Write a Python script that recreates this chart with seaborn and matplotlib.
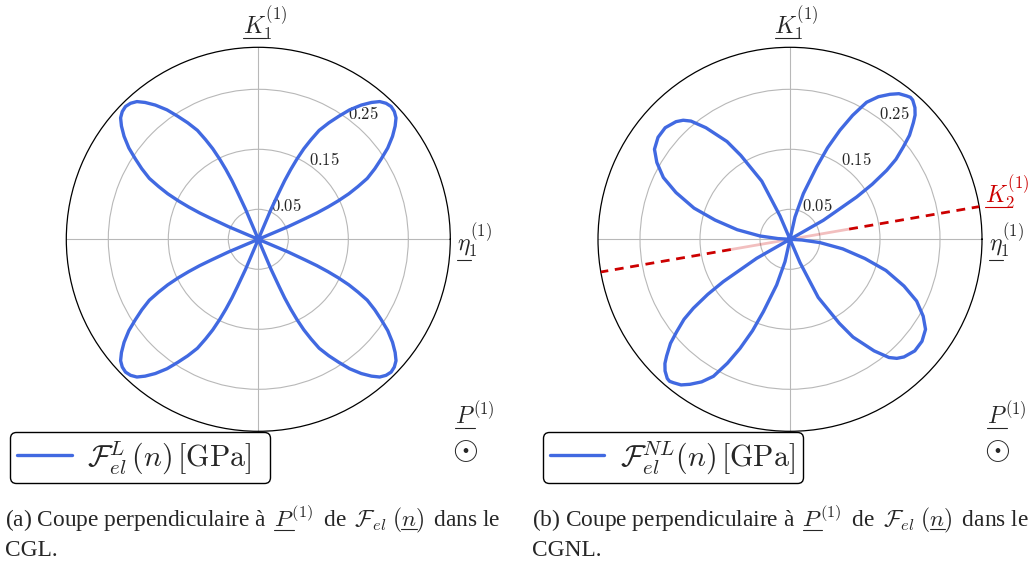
import numpy as np
import matplotlib
matplotlib.use("Agg")
import matplotlib.pyplot as plt
import matplotlib.transforms as mtransforms
from matplotlib.lines import Line2D
import seaborn as sns

sns.set_style("white")
plt.rcParams['font.family'] = ['Liberation Serif', 'DejaVu Serif']
plt.rcParams['mathtext.fontset'] = 'cm'

# ---------------- data ----------------
# (a) CGL : one petal (angle in degrees, radius in GPa), found in the 4 quadrants
left_petal_theta = [22.5, 23.0, 23.8, 24.2, 24.9, 25.7, 26.7, 27.9, 29.2, 31.2, 33.2, 35.2, 37.5, 39.6, 41.4,
                    43.2, 45.0, 46.8, 48.6, 50.4, 52.5, 54.8, 56.8, 58.8, 60.8, 62.1, 63.3, 64.3, 65.1, 65.8,
                    66.2, 67.0, 67.5]
left_petal_r = [0.0, 0.054, 0.086, 0.107, 0.128, 0.148, 0.169, 0.188, 0.208, 0.227, 0.245, 0.264, 0.282, 0.296,
                0.306, 0.311, 0.313, 0.311, 0.306, 0.296, 0.282, 0.264, 0.245, 0.227, 0.208, 0.188, 0.169,
                0.148, 0.128, 0.107, 0.086, 0.054, 0.0]
left_petal_orient = [0, 90, 180, 270]

# (b) CGNL : two different petals, each found again on the opposite side
right_petal1_theta = [29.5, 29.7, 32.4, 33.8, 35.5, 37.05, 39.2, 41.04, 43.4, 44.8, 46.5, 48.6, 49.7, 50.9,
                      53.2, 55.4, 58.2, 60.8, 63.2, 65.4, 67.7, 69.8, 73.7, 77.4, 79.0]
right_petal1_r = [0.0, 0.064, 0.1316, 0.1649, 0.1979, 0.2213, 0.2437, 0.2641, 0.2830, 0.2938, 0.3025, 0.3093,
                  0.3103, 0.3080, 0.3031, 0.2936, 0.2796, 0.2616, 0.2314, 0.1999, 0.1648, 0.1285, 0.0793,
                  0.0381, 0.0]
right_petal2_theta = [112.0, 113.2, 115.9, 120.4, 122.8, 127.0, 129.95, 131.9, 134.1, 138.2, 142.3, 146.4,
                      150.0, 154.0, 157.7, 162.0, 165.6, 169.7, 173.7, 176.6, 177.5]
right_petal2_r = [0.0, 0.0424, 0.1078, 0.1622, 0.1939, 0.2328, 0.2570, 0.2666, 0.2730, 0.2790, 0.2780, 0.2712,
                  0.2563, 0.2348, 0.2054, 0.1682, 0.1290, 0.0894, 0.0503, 0.0200, 0.0]
right_petal_orient = [0, 180]

ring_ticks = [0.05, 0.15, 0.25]
ring_labels = ['0.05', '0.15', '0.25']
r_max = 0.32
theta_grid = [0, 90, 180, 270]
k2_angle = 9.8
k2_inner = 0.10

BLUE = '#4169E1'
RED = '#CC0000'


def build(theta, r, orients):
    th, rr = [], []
    for o in orients:
        th += [t + o for t in theta]
        rr += list(r)
    return np.deg2rad(th), np.array(rr)


W, H = 1032, 572
fig = plt.figure(figsize=(W / 100, H / 100), dpi=100)


def fx(x):
    return x / W


def fy(y):
    return 1 - y / H


R_PX = 192
centers = [(258.3, 239.3), (790.0, 239.3)]
axes = []
for cx, cy in centers:
    ax = fig.add_axes([fx(cx - R_PX), fy(cy + R_PX), 2 * R_PX / W, 2 * R_PX / H], projection='polar')
    ax.set_ylim(0, r_max)
    ax.set_xticks(np.deg2rad(theta_grid))
    ax.set_xticklabels([])
    ax.set_yticks(ring_ticks)
    ax.set_yticklabels([])
    ax.grid(True, color='#b8b8b8', lw=0.8)
    ax.spines['polar'].set_edgecolor('black')
    ax.spines['polar'].set_linewidth(0.9)
    ax.tick_params(length=0)
    off = mtransforms.offset_copy(ax.transData, fig=fig, x=8.4, y=10.0, units='dots')
    for v, lab in zip(ring_ticks, ring_labels):
        ax.text(np.deg2rad(50), v, '$' + lab + '$', transform=off, ha='center', va='center',
                fontsize=12, zorder=4)
    axes.append(ax)

axL, axR = axes

# ---- left curve ----
thL, rL = build(left_petal_theta, left_petal_r, left_petal_orient)
sns.lineplot(x=thL, y=rL, ax=axL, sort=False, estimator=None, color=BLUE, lw=2.4, zorder=5)
lineL = axL.lines[-1]

# ---- right curve ----
n1, n2 = len(right_petal1_theta), len(right_petal2_theta)
th1, r1 = build(right_petal1_theta, right_petal1_r, right_petal_orient)
th2, r2 = build(right_petal2_theta, right_petal2_r, right_petal_orient)
thR = np.concatenate([th1[:n1], th2[:n2], th1[n1:], th2[n2:]])
rR = np.concatenate([r1[:n1], r2[:n2], r1[n1:], r2[n2:]])

# K2 direction
for a in (k2_angle, k2_angle + 180):
    axR.plot([np.deg2rad(a)] * 2, [0, k2_inner], color=RED, alpha=0.25, lw=2.0, zorder=3,
             solid_capstyle='butt')
    axR.plot([np.deg2rad(a)] * 2, [k2_inner, r_max], color=RED, lw=2.0, ls=(0, (3.2, 2.4)), zorder=3)

sns.lineplot(x=thR, y=rR, ax=axR, sort=False, estimator=None, color=BLUE, lw=2.4, zorder=5)
lineR = axR.lines[-1]

for ax in axes:
    if ax.get_legend() is not None:
        ax.get_legend().remove()

# ---- legends ----
leg_labels = [r'$\mathcal{F}_{el}^{L}\,(n)\,[\mathrm{GPa}]$',
              r'$\mathcal{F}_{el}^{NL}(n)\,[\mathrm{GPa}]$']
leg_ul = [[(r'$\mathcal{F}_{el}^{L}\,(n$', r'$n$', 0.10)],
          [(r'$\mathcal{F}_{el}^{NL}(n$', r'$n$', 0.10)]]
leg_box = [(10, 482.7), (542.7, 482.7)]
LEG_W, LEG_H = 260, 50
legends = []
for ln, lab, (lx, ly) in zip([lineL, lineR], leg_labels, leg_box):
    lg = fig.legend(handles=[ln], labels=[lab], loc='lower left', mode='expand',
                    bbox_to_anchor=(fx(lx), fy(ly), LEG_W / W, LEG_H / H),
                    bbox_transform=fig.transFigure, borderaxespad=0, frameon=True, fancybox=True,
                    fontsize=21.5, handlelength=1.82, handletextpad=0.53, borderpad=0.24, framealpha=1)
    lg.get_frame().set_edgecolor('black')
    lg.get_frame().set_linewidth(1.0)
    legends.append(lg)

# ---- direction labels ----
K1 = r'$K_1^{(1)}$'
ETA = r'$\eta_1^{(1)}$'
P1 = r'$P^{(1)}$'
K2 = r'$K_2^{(1)}$'

ul_jobs = []
for cx in (258.3, 790.0):
    t = fig.text(fx(cx - 15.5), fy(24), K1, fontsize=17, ha='left', va='center')
    ul_jobs.append((t, [(r'$K$', r'$K$', 0.16)]))
    t = fig.text(fx(cx + 199), fy(241), ETA, fontsize=17, ha='left', va='center')
    ul_jobs.append((t, [(r'$\eta$', r'$\eta$', 0.34)]))
    t = fig.text(fx(cx + 197), fy(416), P1, fontsize=17, ha='left', va='center')
    ul_jobs.append((t, [(r'$P$', r'$P$', 0.16)]))
    fig.text(fx(cx + 207), fy(451), r'$\odot$', fontsize=24, ha='center', va='center')
t = fig.text(fx(985), fy(193), K2, fontsize=17, ha='left', va='center', color=RED)
ul_jobs.append((t, [(r'$K$', r'$K$', 0.16)]))

# ---- captions ----
for lab, x0, second in (('(a)', 5, 'CGL.'), ('(b)', 532, 'CGNL.')):
    pre1 = lab + r' Coupe perpendiculaire à $\,P'
    pre2 = pre1 + r'^{(1)}\,$ de $\,\mathcal{F}_{el}\;(n'
    cap = pre2 + r')\,$ dans le'
    t = fig.text(fx(x0), fy(519), cap, fontsize=16.8, ha='left', va='center')
    ul_jobs.append((t, [(pre1 + '$', r'$P$', 0.14), (pre2 + '$', r'$n$', 0.12)]))
    fig.text(fx(x0), fy(551), second, fontsize=16.8, ha='left', va='center')

# ---- underlines (the notation uses underlined vectors) ----
fig.canvas.draw()
renderer = fig.canvas.get_renderer()


def add_underlines(t, segs):
    prop = t.get_fontproperties()
    bb = t.get_window_extent(renderer)
    _, _, d = renderer.get_text_width_height_descent(t.get_text(), prop, ismath=True)
    _, _, d_lp = renderer.get_text_width_height_descent('lp', prop, ismath=False)
    base_y = bb.y0 + max(d, d_lp)
    fs_px = prop.get_size_in_points() * fig.dpi / 72
    for pre, base, depth in segs:
        w_end = renderer.get_text_width_height_descent(pre, prop, ismath=True)[0]
        w_b = renderer.get_text_width_height_descent(base, prop, ismath=True)[0]
        x1 = bb.x0 + w_end
        x0 = x1 - w_b
        y = base_y - depth * fs_px
        fig.add_artist(Line2D([x0 / W, x1 / W], [y / H, y / H], transform=fig.transFigure,
                              color=t.get_color(), lw=0.8))


for t, segs in ul_jobs:
    add_underlines(t, segs)

for lg in legends:
    for t in lg.get_texts():
        for lab, segs in zip(leg_labels, leg_ul):
            if t.get_text() == lab:
                add_underlines(t, segs)

fig.savefig('out.png', dpi=100, facecolor='white')
